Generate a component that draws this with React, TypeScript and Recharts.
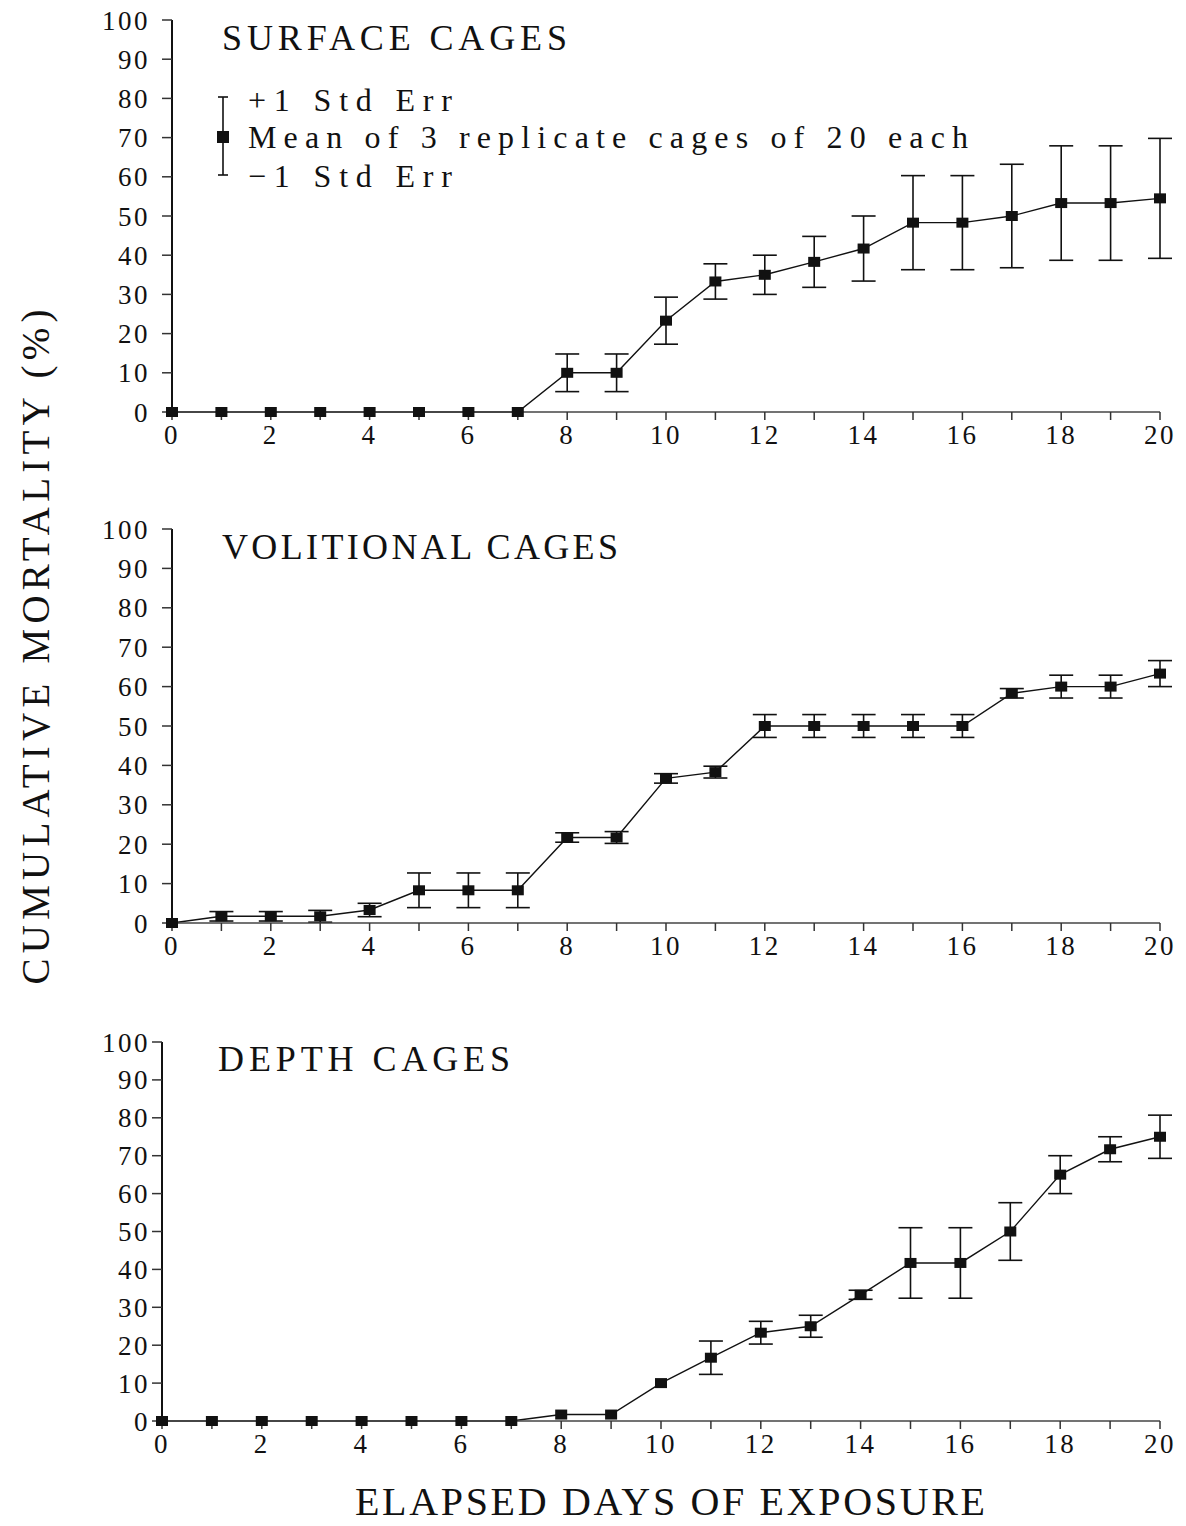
import React from 'react';
import { LineChart, Line, XAxis, YAxis, ErrorBar, Legend } from 'recharts';

// elapsed days (x categories)
const DAYS = [0, 1, 2, 3, 4, 5, 6, 7, 8, 9, 10, 11, 12, 13, 14, 15, 16, 17, 18, 19, 20];
const X_TICKS = [0, 1, 2, 3, 4, 5, 6, 7, 8, 9, 10, 11, 12, 13, 14, 15, 16, 17, 18, 19, 20];
const Y_TICKS = [0, 10, 20, 30, 40, 50, 60, 70, 80, 90, 100];

// cumulative mortality (%), mean of 3 cages, and +/- 1 std err
const SURFACE_MEAN = [0, 0, 0, 0, 0, 0, 0, 0, 10, 10, 23.3, 33.3, 35, 38.3, 41.7, 48.3, 48.3, 50, 53.3, 53.3, 54.5];
const SURFACE_SE = [0, 0, 0, 0, 0, 0, 0, 0, 4.8, 4.8, 6, 4.5, 5, 6.5, 8.3, 12, 12, 13.2, 14.6, 14.6, 15.3];

const VOLITIONAL_MEAN = [0, 1.7, 1.7, 1.7, 3.3, 8.3, 8.3, 8.3, 21.7, 21.7, 36.7, 38.3, 50, 50, 50, 50, 50, 58.3, 60, 60, 63.3];
const VOLITIONAL_SE = [0, 1.2, 1.2, 1.5, 1.7, 4.4, 4.4, 4.4, 1.2, 1.5, 1.2, 1.5, 2.9, 2.9, 2.9, 2.9, 2.9, 1.2, 2.9, 2.9, 3.3];

const DEPTH_MEAN = [0, 0, 0, 0, 0, 0, 0, 0, 1.7, 1.7, 10, 16.7, 23.3, 25, 33.3, 41.7, 41.7, 50, 65, 71.7, 75];
const DEPTH_SE = [0, 0, 0, 0, 0, 0, 0, 0, 0, 0, 0, 4.4, 3, 2.9, 1.2, 9.3, 9.3, 7.6, 5, 3.3, 5.7];

const FONT = '"Liberation Serif", "DejaVu Serif", serif';
const INK = '#111';

const rowsOf = (mean: number[], se: number[]) =>
  DAYS.map((d, i) => ({ day: d, mean: mean[i], se: se[i] }));

const SquareDot = (p: any) => {
  const { cx, cy, index } = p;
  if (cx == null || cy == null) return null;
  return <rect key={`dot-${index}`} x={cx - 6} y={cy - 5} width={12} height={10} fill={INK} />;
};

// legend box sits at page (200, 70)
const LegendKey = () => (
  <svg width={800} height={140} style={{ display: 'block', overflow: 'visible' }}>
    <line x1={23} y1={27} x2={23} y2={105} stroke={INK} strokeWidth={1.6} />
    <line x1={18} y1={27} x2={28} y2={27} stroke={INK} strokeWidth={1.6} />
    <line x1={18} y1={105} x2={28} y2={105} stroke={INK} strokeWidth={1.6} />
    <rect x={17} y={61} width={12} height={12} fill={INK} />
    <g fontFamily={FONT} fontSize={32} fill={INK}>
      <text x={48} y={30} dominantBaseline="central" textLength={204} lengthAdjust="spacing">+1 Std Err</text>
      <text x={48} y={67} dominantBaseline="central" textLength={720} lengthAdjust="spacing">
        Mean of 3 replicate cages of 20 each
      </text>
      <text x={48} y={106} dominantBaseline="central" textLength={204} lengthAdjust="spacing">−1 Std Err</text>
    </g>
  </svg>
);

interface PanelProps {
  top: number; // page y of the 100 line
  zero: number; // page y of the 0 line
  axisX: number; // page x of the y axis
  rows: { day: number; mean: number; se: number }[];
  legend?: boolean;
}

const tickStyle = { fontFamily: FONT, fontSize: 27, fill: INK, letterSpacing: 2.5 };

const Panel: React.FC<PanelProps> = ({ top, zero, axisX, rows, legend }) => {
  const height = 20 + (zero - top) + 60;
  return (
    <div style={{ position: 'absolute', left: 0, top: top - 20 }}>
      <LineChart width={1186} height={height} data={rows} margin={{ top: 20, right: 26, bottom: 0, left: 0 }}>
        <XAxis
          dataKey="day"
          type="number"
          domain={[0, 20]}
          ticks={X_TICKS}
          interval={0}
          tickFormatter={(v: number) => (v % 2 === 0 ? String(v) : '')}
          height={60}
          tickSize={8}
          tickMargin={5}
          axisLine={{ stroke: '#444', strokeWidth: 1.5 }}
          tickLine={{ stroke: '#333', strokeWidth: 1.5 }}
          tick={tickStyle}
        />
        <YAxis
          type="number"
          domain={[0, 100]}
          ticks={Y_TICKS}
          interval={0}
          width={axisX}
          tickSize={10}
          tickMargin={axisX - 160}
          axisLine={{ stroke: INK, strokeWidth: 2 }}
          tickLine={{ stroke: '#333', strokeWidth: 1.5 }}
          tick={tickStyle}
        />
        {legend && (
          <Legend
            layout="vertical"
            align="center"
            verticalAlign="middle"
            wrapperStyle={{ left: 200, top: 70, width: 800, height: 140 }}
            content={() => <LegendKey />}
          />
        )}
        <Line
          dataKey="mean"
          type="linear"
          stroke={INK}
          strokeWidth={1.4}
          dot={SquareDot}
          activeDot={false}
          isAnimationActive={false}
        >
          <ErrorBar dataKey="se" direction="y" width={12} stroke={INK} strokeWidth={1.6} isAnimationActive={false} />
        </Line>
      </LineChart>
    </div>
  );
};

const App: React.FC = () => (
  <div style={{ position: 'absolute', left: 0, top: 0, width: 1186, height: 1526, background: '#fff' }}>
    <Panel top={20} zero={412} axisX={172} rows={rowsOf(SURFACE_MEAN, SURFACE_SE)} legend />
    <Panel top={529} zero={923} axisX={172} rows={rowsOf(VOLITIONAL_MEAN, VOLITIONAL_SE)} />
    <Panel top={1042} zero={1421} axisX={162} rows={rowsOf(DEPTH_MEAN, DEPTH_SE)} />
    <svg
      width={1186}
      height={1526}
      style={{ position: 'absolute', left: 0, top: 0, pointerEvents: 'none' }}
    >
      <g fontFamily={FONT} fill={INK}>
        <text x={222} y={38} fontSize={36} dominantBaseline="central" textLength={345} lengthAdjust="spacing">
          SURFACE CAGES
        </text>
        <text x={222} y={547} fontSize={36} dominantBaseline="central" textLength={396} lengthAdjust="spacing">
          VOLITIONAL CAGES
        </text>
        <text x={218} y={1059} fontSize={36} dominantBaseline="central" textLength={292} lengthAdjust="spacing">
          DEPTH CAGES
        </text>
        <text x={355} y={1501} fontSize={40} dominantBaseline="central" textLength={630} lengthAdjust="spacing">
          ELAPSED DAYS OF EXPOSURE
        </text>
        <text
          x={35}
          y={647}
          fontSize={39}
          textAnchor="middle"
          dominantBaseline="central"
          transform="rotate(-90 35 647)"
          textLength={675}
          lengthAdjust="spacing"
        >
          CUMULATIVE MORTALITY (%)
        </text>
      </g>
    </svg>
  </div>
);

export default App;
